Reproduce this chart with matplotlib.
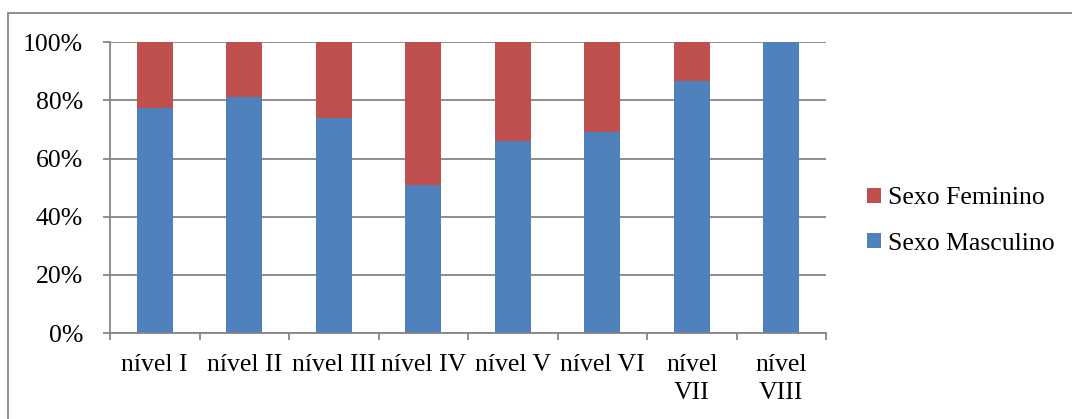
import matplotlib
matplotlib.use("Agg")
import matplotlib.pyplot as plt
from matplotlib.patches import Rectangle, Patch
from matplotlib.ticker import FixedLocator, FuncFormatter

categories = ["nível I", "nível II", "nível III", "nível IV", "nível V",
              "nível VI", "nível\nVII", "nível\nVIII"]
masculino = [77.3, 81.2, 73.9, 51.0, 66.0, 69.0, 86.6, 100.0]
feminino = [100 - m for m in masculino]
y_ticks = [0, 20, 40, 60, 80, 100]

blue = "#4F81BD"
red = "#C0504D"
grid_gray = "#868686"

plt.rcParams["font.family"] = ["Liberation Serif", "DejaVu Serif"]
FS = 18.5

W, H = 1072, 419
fig = plt.figure(figsize=(W / 100, H / 100), dpi=100)
ax = fig.add_axes([110 / W, (H - 333) / H, (826 - 110) / W, (333 - 42.3) / H])

x = list(range(len(categories)))
ax.bar(x, masculino, width=0.4, color=blue, edgecolor="none", zorder=3,
       label="Sexo Masculino")
ax.bar(x, feminino, width=0.4, bottom=masculino, color=red, edgecolor="none",
       zorder=3, label="Sexo Feminino")

ax.set_xlim(-0.5, len(categories) - 0.5)
ax.set_ylim(0, 100)

# horizontal gridlines
ax.set_yticks(y_ticks)
ax.yaxis.set_major_formatter(FuncFormatter(lambda v, p: f"{int(v)}%"))
ax.grid(axis="y", color=grid_gray, linewidth=1.3, zorder=0)
ax.tick_params(axis="y", direction="out", length=5, width=1.3,
               color=grid_gray, pad=14.5, labelsize=FS)

# x ticks at category boundaries, labels at centers
ax.xaxis.set_major_locator(FixedLocator([i - 0.5 for i in range(len(categories) + 1)]))
ax.xaxis.set_major_formatter(FuncFormatter(lambda v, p: ""))
ax.xaxis.set_minor_locator(FixedLocator(x))
ax.set_xticklabels(categories, minor=True)
ax.tick_params(axis="x", which="major", direction="out", length=5, width=1.3,
               color=grid_gray)
ax.tick_params(axis="x", which="minor", length=0, pad=15, labelsize=FS)
for lbl in ax.get_xticklabels(minor=True):
    lbl.set_verticalalignment("top")
    lbl.set_linespacing(1.38)

for side in ("top", "right"):
    ax.spines[side].set_visible(False)
for side in ("left", "bottom"):
    ax.spines[side].set_color(grid_gray)
    ax.spines[side].set_linewidth(1.3)
    ax.spines[side].set_zorder(4)

# legend to the right of the plot
handles = [Patch(facecolor=red, edgecolor="none", label="Sexo Feminino"),
           Patch(facecolor=blue, edgecolor="none", label="Sexo Masculino")]
fig.legend(handles=handles, loc="center left",
           bbox_to_anchor=(867 / W, 1 - 221 / H), frameon=False,
           fontsize=FS, handlelength=0.55, handleheight=0.55,
           handletextpad=0.25, labelspacing=0.9, borderpad=0,
           borderaxespad=0)

# chart area border
fig.add_artist(Rectangle((8 / W, -0.1), 1.2, 1 - 13 / H + 0.1,
                         transform=fig.transFigure, fill=False,
                         edgecolor=grid_gray, linewidth=1.3, clip_on=False))

fig.savefig("out.png", dpi=100)
